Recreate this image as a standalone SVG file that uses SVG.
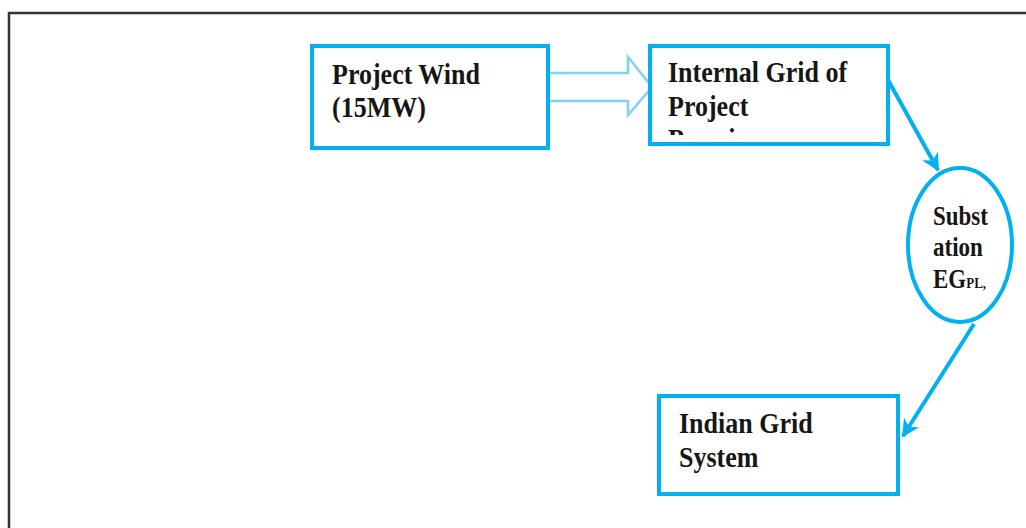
<svg xmlns="http://www.w3.org/2000/svg" width="1026" height="528" viewBox="0 0 1026 528">
<style>
.box{fill:#fff;stroke:#00b0f0;stroke-width:4}
.t{font-weight:bold;fill:#161616}
.big{font-size:26px}
.small{font-size:23px}
.conn{stroke:#00b0f0;stroke-width:4;fill:none}
</style>
<defs>
<marker id="ah" viewBox="0 0 10 10" refX="9" refY="5" markerWidth="4.5" markerHeight="4.5" orient="auto" markerUnits="strokeWidth">
<path d="M0,0 L10,5 L0,10 L3,5 Z" fill="#00b0f0"/>
</marker>
<clipPath id="clipIG"><rect x="652" y="48" width="234" height="87"/></clipPath>
</defs>
<path d="M9,530 V13 H1030" fill="none" stroke="#333" stroke-width="2.5"/>
<g id="connectors">
<path d="M550,73 H628 V57 L652,87 L628,115 V101 H550" fill="#fff" stroke="#7fd2f6" stroke-width="2.5" stroke-linejoin="miter"/>
<line class="conn" x1="888" y1="80" x2="938" y2="170" marker-end="url(#ah)"/>
<line class="conn" x1="974" y1="324" x2="903" y2="436" marker-end="url(#ah)"/>
</g>
<g id="project-wind" font-family="Liberation Serif, Times New Roman, serif">
<rect class="box" x="312" y="46" width="236" height="102"/>
<text class="t big" transform="translate(332,84) scale(1,1.12)">Project Wind</text>
<text class="t big" transform="translate(332,117) scale(1,1.12)">(15MW)</text>
</g>
<g id="internal-grid" font-family="Liberation Serif, Times New Roman, serif">
<rect class="box" x="650" y="46" width="238" height="98"/>
<g clip-path="url(#clipIG)">
<text class="t big" transform="translate(668,82) scale(1,1.12)">Internal Grid of</text>
<text class="t big" transform="translate(668,116) scale(1,1.12)">Project</text>
<text class="t big" transform="translate(668,149) scale(1,1.12)">Premises</text>
</g>
</g>
<g id="substation" font-family="Liberation Serif, Times New Roman, serif">
<ellipse cx="960" cy="245" rx="52" ry="77" fill="#fff" stroke="#00b0f0" stroke-width="4"/>
<text class="t small" transform="translate(933,225) scale(1,1.15)">Subst</text>
<text class="t small" transform="translate(933,256) scale(1,1.15)">ation</text>
<text class="t small" transform="translate(933,288) scale(1,1.15)">EG<tspan font-size="13">PL,</tspan></text>
</g>
<g id="indian-grid" font-family="Liberation Serif, Times New Roman, serif">
<rect class="box" x="659" y="396" width="239" height="98"/>
<text class="t big" transform="translate(679,433) scale(1,1.12)">Indian Grid</text>
<text class="t big" transform="translate(679,467) scale(1,1.12)">System</text>
</g>
</svg>
